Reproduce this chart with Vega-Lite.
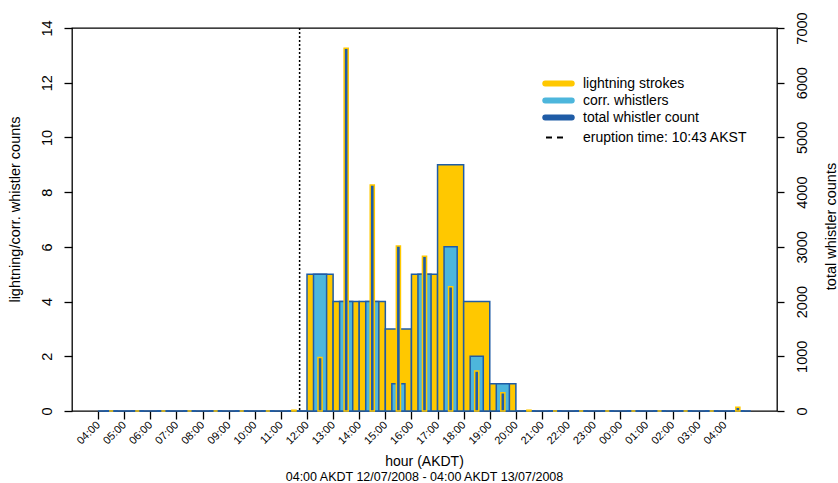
{
  "$schema": "https://vega.github.io/schema/vega-lite/v6.json",
  "width": 705,
  "height": 383,
  "autosize": {"type": "none"},
  "padding": {"left": 72, "top": 28, "right": 61, "bottom": 72},
  "background": "white",
  "config": {
    "font": "Liberation Sans",
    "view": {"stroke": "black", "strokeWidth": 1.3},
    "axis": {
      "domain": false,
      "grid": false,
      "ticks": true,
      "tickColor": "black",
      "tickWidth": 1.3,
      "labelColor": "black",
      "labelFont": "Liberation Sans",
      "titleFont": "Liberation Sans",
      "titleColor": "black",
      "titleFontWeight": "normal",
      "labelOverlap": false,
      "labelBound": false,
      "labelFlush": false
    }
  },
  "datasets": {
    "hourly": [
      {"t0": 0, "t1": 1, "lightning": 0, "corr": 0, "total": 0},
      {"t0": 1, "t1": 2, "lightning": 0, "corr": 0, "total": 0},
      {"t0": 2, "t1": 3, "lightning": 0, "corr": 0, "total": 0},
      {"t0": 3, "t1": 4, "lightning": 0, "corr": 0, "total": 0},
      {"t0": 4, "t1": 5, "lightning": 0, "corr": 0, "total": 0},
      {"t0": 5, "t1": 6, "lightning": 0, "corr": 0, "total": 0},
      {"t0": 6, "t1": 7, "lightning": 0, "corr": 0, "total": 0},
      {"t0": 7, "t1": 8, "lightning": 0, "corr": 0, "total": 15},
      {"t0": 8, "t1": 9, "lightning": 5, "corr": 5, "total": 980},
      {"t0": 9, "t1": 10, "lightning": 4, "corr": 4, "total": 6630},
      {"t0": 10, "t1": 11, "lightning": 4, "corr": 4, "total": 4130},
      {"t0": 11, "t1": 12, "lightning": 3, "corr": 1, "total": 3015},
      {"t0": 12, "t1": 13, "lightning": 5, "corr": 5, "total": 2830},
      {"t0": 13, "t1": 14, "lightning": 9, "corr": 6, "total": 2270},
      {"t0": 14, "t1": 15, "lightning": 4, "corr": 2, "total": 730},
      {"t0": 15, "t1": 16, "lightning": 1, "corr": 1, "total": 335},
      {"t0": 16, "t1": 17, "lightning": 0, "corr": 0, "total": 15},
      {"t0": 17, "t1": 18, "lightning": 0, "corr": 0, "total": 0},
      {"t0": 18, "t1": 19, "lightning": 0, "corr": 0, "total": 0},
      {"t0": 19, "t1": 20, "lightning": 0, "corr": 0, "total": 0},
      {"t0": 20, "t1": 21, "lightning": 0, "corr": 0, "total": 0},
      {"t0": 21, "t1": 22, "lightning": 0, "corr": 0, "total": 0},
      {"t0": 22, "t1": 23, "lightning": 0, "corr": 0, "total": 0},
      {"t0": 23, "t1": 24, "lightning": 0, "corr": 0, "total": 0},
      {"t0": 24, "t1": 25, "lightning": 0, "corr": 0, "total": 70}
    ],
    "eruption": [
      {"event": "eruption time: 10:43 AKST", "hour": 7.717}
    ]
  },
  "title": {
    "text": "hour (AKDT)",
    "subtitle": "04:00 AKDT 12/07/2008 - 04:00 AKDT 13/07/2008",
    "orient": "bottom",
    "anchor": "middle",
    "font": "Liberation Sans",
    "subtitleFont": "Liberation Sans",
    "fontSize": 14,
    "fontWeight": "normal",
    "subtitleFontSize": 12.5,
    "subtitlePadding": 2,
    "color": "black",
    "subtitleColor": "black",
    "offset": 9
  },
  "layer": [
    {
      "data": {"name": "hourly"},
      "mark": {"type": "bar", "fill": "#FFC800", "stroke": "#1F5CA6", "strokeWidth": 1.5},
      "encoding": {
        "x": {
          "field": "t0",
          "type": "quantitative",
          "scale": {"domain": [-1, 26], "nice": false, "zero": false},
          "axis": {
            "values": [0, 1, 2, 3, 4, 5, 6, 7, 8, 9, 10, 11, 12, 13, 14, 15, 16, 17, 18, 19, 20, 21, 22, 23, 24],
            "labelExpr": "((((datum.value + 4) % 24) < 10) ? '0' : '') + ((datum.value + 4) % 24) + ':00'",
            "labelAngle": -45,
            "labelAlign": "right",
            "labelBaseline": "middle",
            "labelFontSize": 11,
            "labelOverlap": false,
            "tickSize": 8,
            "labelPadding": 4,
            "title": null
          }
        },
        "x2": {"field": "t1"},
        "y": {
          "field": "lightning",
          "type": "quantitative",
          "scale": {"domain": [0, 14], "nice": false},
          "axis": {
            "orient": "left",
            "values": [0, 2, 4, 6, 8, 10, 12, 14],
            "format": "d",
            "labelAngle": 270,
            "labelAlign": "center",
            "labelBaseline": "middle",
            "labelFontSize": 14.5,
            "labelOverlap": false,
            "tickSize": 8,
            "labelPadding": 17,
            "title": "lightning/corr. whistler counts",
            "titleFontSize": 14.5,
            "titleAngle": 270,
            "titleX": -57,
            "titleY": 181,
            "titleAlign": "center",
            "titleBaseline": "middle"
          }
        },
        "y2": {"datum": 0}
      }
    },
    {
      "data": {"name": "hourly"},
      "mark": {"type": "bar", "fill": "#4DB6DC", "stroke": "#1F5CA6", "strokeWidth": 1.5, "xOffset": 6.5, "x2Offset": -6.5},
      "encoding": {
        "x": {"field": "t0", "type": "quantitative", "axis": null},
        "x2": {"field": "t1"},
        "y": {"field": "corr", "type": "quantitative", "scale": {"domain": [0, 14], "nice": false}, "axis": null},
        "y2": {"datum": 0}
      }
    },
    {
      "data": {"name": "eruption"},
      "mark": {"type": "rule", "color": "black", "strokeWidth": 1.5, "strokeDash": [2, 2]},
      "encoding": {
        "x": {"field": "hour", "type": "quantitative", "axis": null}
      }
    },
    {
      "data": {"name": "hourly"},
      "mark": {"type": "bar", "fill": "#1F5CA6", "stroke": "#FFC800", "strokeWidth": 1.5, "xOffset": 11, "x2Offset": -11},
      "encoding": {
        "x": {"field": "t0", "type": "quantitative", "axis": null},
        "x2": {"field": "t1"},
        "y": {
          "field": "total",
          "type": "quantitative",
          "scale": {"domain": [0, 7000], "nice": false},
          "axis": {
            "orient": "right",
            "values": [0, 1000, 2000, 3000, 4000, 5000, 6000, 7000],
            "format": "d",
            "labelAngle": 270,
            "labelAlign": "center",
            "labelBaseline": "middle",
            "labelFontSize": 14.5,
            "labelOverlap": false,
            "tickSize": 7,
            "labelPadding": 18,
            "title": "total whistler counts",
            "titleFontSize": 14.5,
            "titleAngle": 270,
            "titleX": 54,
            "titleY": 198,
            "titleAlign": "center",
            "titleBaseline": "middle"
          }
        },
        "y2": {"datum": 0}
      }
    },
    {
      "data": {"values": []},
      "mark": {"type": "line", "strokeWidth": 6, "strokeCap": "round"},
      "encoding": {
        "stroke": {
          "datum": "lightning strokes",
          "scale": {
            "domain": ["lightning strokes", "corr. whistlers", "total whistler count"],
            "range": ["#FFC800", "#4DB6DC", "#1F5CA6"]
          },
          "legend": {
            "title": null,
            "orient": "none",
            "legendX": 470,
            "legendY": 47,
            "symbolType": "stroke",
            "symbolSize": 700,
            "symbolStrokeWidth": 6,
            "labelFontSize": 14,
            "labelFont": "Liberation Sans",
            "labelColor": "black",
            "labelLimit": 400,
            "labelOffset": 8,
            "clipHeight": 17,
            "rowPadding": 0,
            "padding": 0,
            "encode": {
              "symbols": {
                "update": {
                  "strokeCap": {"value": "round"},
                  "strokeWidth": {"value": 6}
                }
              }
            }
          }
        }
      }
    },
    {
      "data": {"values": []},
      "mark": {"type": "line", "strokeWidth": 2, "color": "black"},
      "encoding": {
        "strokeDash": {
          "datum": "eruption time: 10:43 AKST",
          "scale": {"domain": ["eruption time: 10:43 AKST"], "range": [[6, 5]]},
          "legend": {
            "title": null,
            "orient": "none",
            "legendX": 473,
            "legendY": 101,
            "symbolType": "stroke",
            "symbolSize": 400,
            "symbolStrokeWidth": 2,
            "symbolStrokeColor": "black",
            "labelFontSize": 14,
            "labelFont": "Liberation Sans",
            "labelColor": "black",
            "labelLimit": 400,
            "labelOffset": 16,
            "clipHeight": 17,
            "padding": 0
          }
        }
      }
    }
  ],
  "resolve": {"scale": {"y": "independent"}, "axis": {"x": "independent"}}
}
